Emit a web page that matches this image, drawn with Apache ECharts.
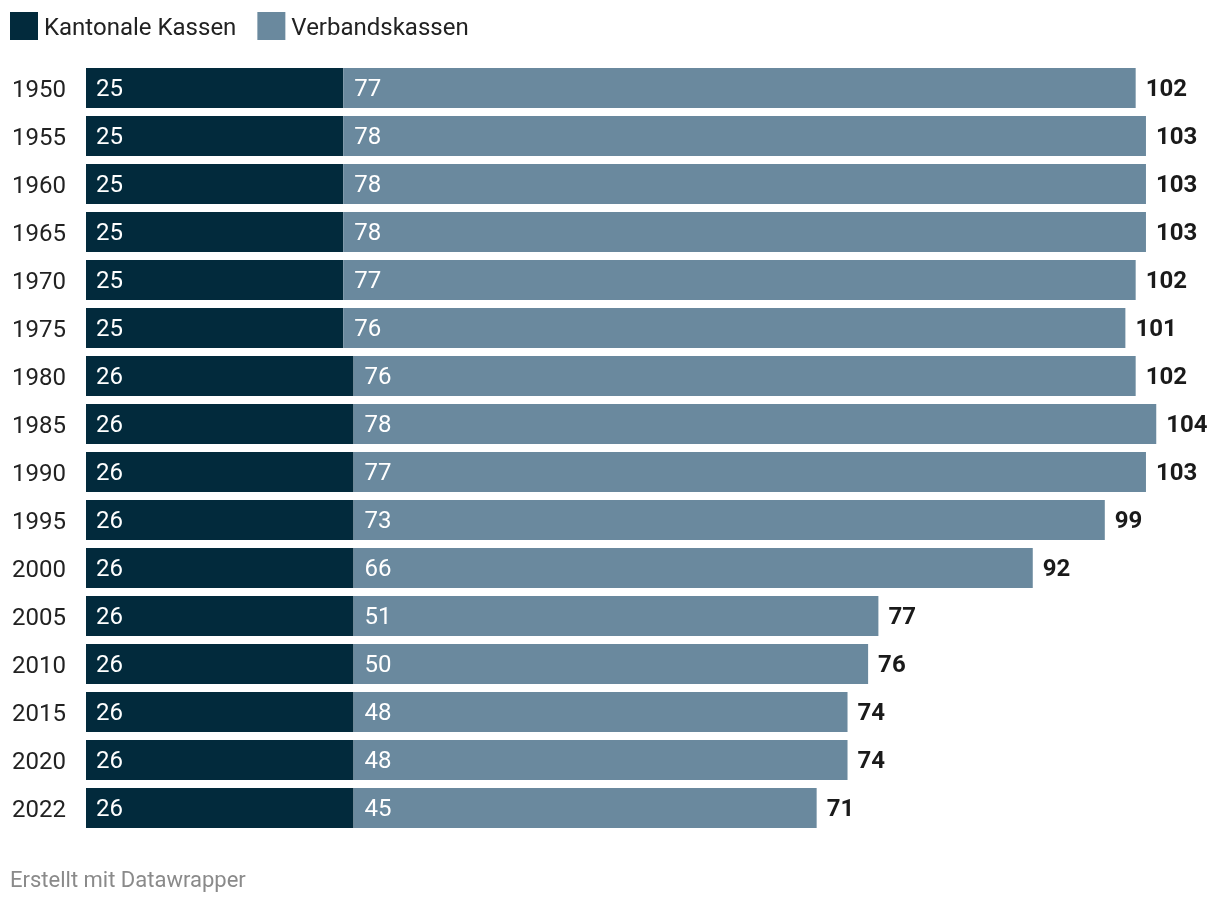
<!DOCTYPE html>
<html>
<head>
<meta charset="utf-8">
<script src="https://cdn.jsdelivr.net/npm/echarts@6/dist/echarts.min.js"></script>
<style>
html,body{margin:0;padding:0;background:#fff;}
#chart{width:1220px;height:906px;}
</style>
</head>
<body>
<div id="chart"></div>
<script>
const years = ['1950','1955','1960','1965','1970','1975','1980','1985','1990','1995','2000','2005','2010','2015','2020','2022'];
const kantonale = [25,25,25,25,25,25,26,26,26,26,26,26,26,26,26,26];
const verbands = [77,78,78,78,77,76,76,78,77,73,66,51,50,48,48,45];
const totals = years.map((y,i)=>kantonale[i]+verbands[i]);

const FONT = 'Roboto';
const FS = 24;
const chart = echarts.init(document.getElementById('chart'));
chart.setOption({
  animation:false,
  textStyle:{fontFamily:FONT},
  legend:{
    left:10, top:12, padding:0, icon:'rect', itemWidth:28, itemHeight:28, itemGap:21,
    formatter:n=>'{t|'+n+'}',
    textStyle:{fontFamily:FONT, fontSize:FS, color:'#222', padding:[0,0,0,1],
      rich:{t:{fontFamily:FONT, fontSize:FS, color:'#222', padding:[5,0,0,0]}}},
    data:['Kantonale Kassen','Verbandskassen']
  },
  title:{
    text:'Erstellt mit Datawrapper', left:10, top:870, padding:0,
    textStyle:{fontFamily:FONT, fontSize:22, fontWeight:'normal', color:'#8a8a8a'}
  },
  grid:{left:86, top:64, height:768, right:2},
  xAxis:{type:'value', min:0, max:110, show:false},
  yAxis:{
    type:'category', data:years, inverse:true,
    axisLine:{show:false}, axisTick:{show:false},
    axisLabel:{fontFamily:FONT, fontSize:FS, color:'#222', margin:20, verticalAlign:'top', lineHeight:5}
  },
  series:[
    {name:'Kantonale Kassen', type:'bar', stack:'t', data:kantonale, barCategoryGap:'16.7%',
     itemStyle:{color:'#022a3c'},
     label:{show:true, position:'insideLeft', distance:10, offset:[0,2], color:'#fff', fontFamily:FONT, fontSize:FS}},
    {name:'Verbandskassen', type:'bar', stack:'t', data:verbands,
     itemStyle:{color:'#6a899e'},
     label:{show:true, position:'insideLeft', distance:11, offset:[0,2], color:'#fff', fontFamily:FONT, fontSize:FS}},
    {name:'Total', type:'scatter', data:totals.map((t,i)=>[t, years[i]]), symbolSize:0,
     itemStyle:{opacity:1}, silent:true,
     label:{show:true, position:'right', distance:10, offset:[0,2], color:'#1a1a1a', opacity:1, fontFamily:FONT, fontSize:FS, fontWeight:'bold',
       formatter:p=>p.value[0]}}
  ]
});
</script>
</body>
</html>
